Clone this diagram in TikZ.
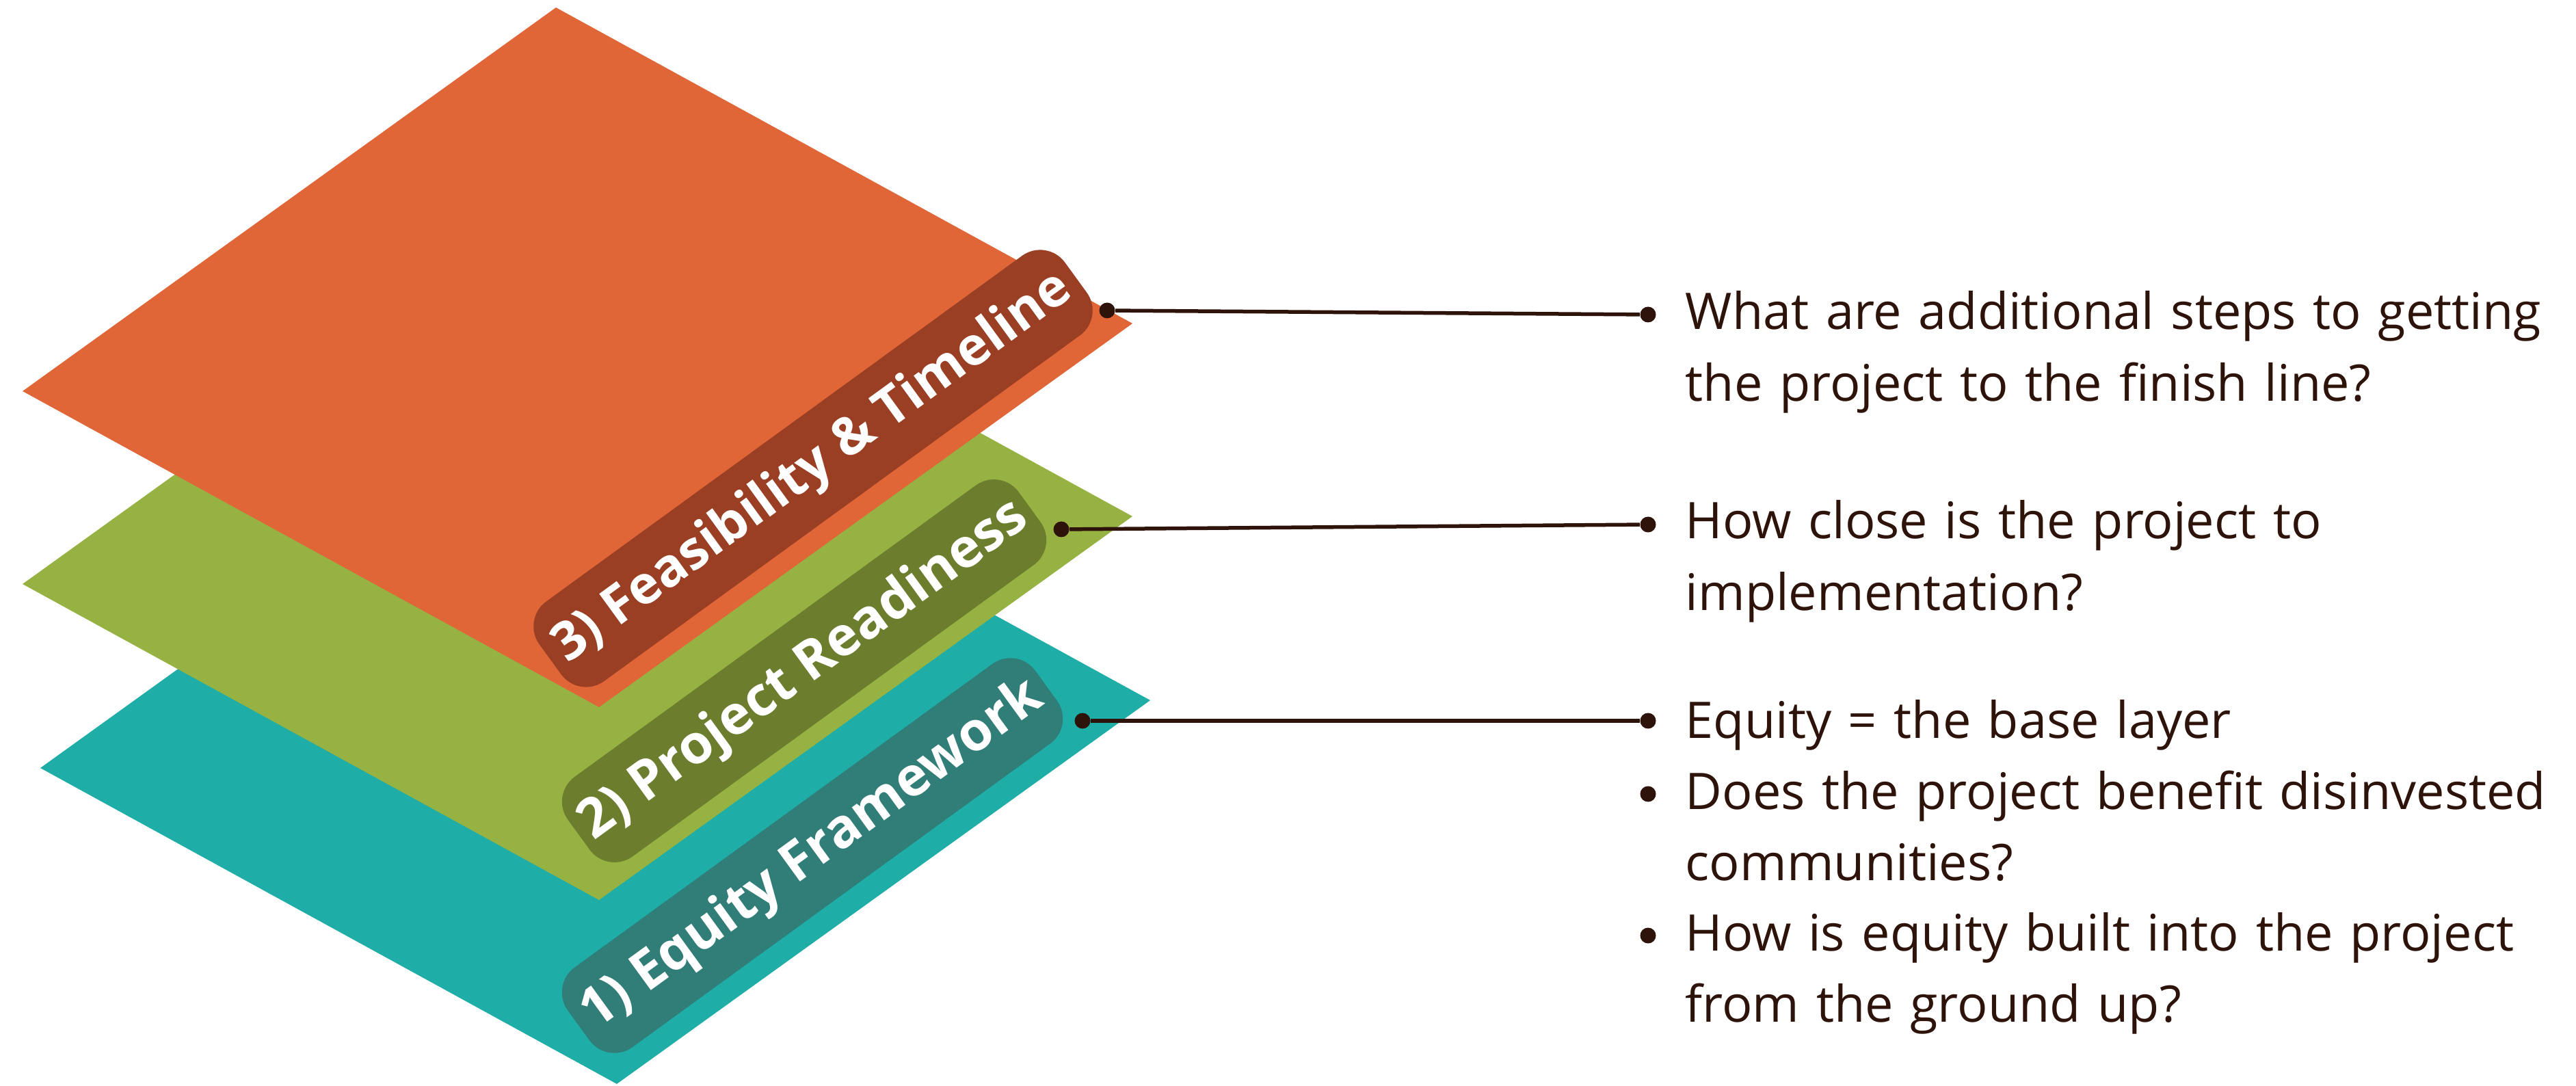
\documentclass[tikz,border=0pt]{standalone}
\usepackage{fontspec}
\setmainfont{Open Sans}
\usepackage{tikz}
\usetikzlibrary{shapes.geometric}
\definecolor{layerorange}{RGB}{224,101,55}
\definecolor{layergreen}{RGB}{150,178,67}
\definecolor{layerteal}{RGB}{30,173,167}
\definecolor{tagrust}{RGB}{154,63,36}
\definecolor{tagolive}{RGB}{108,126,46}
\definecolor{tagteal}{RGB}{49,125,120}
\definecolor{inkbrown}{RGB}{45,19,10}

\begin{document}
\begin{tikzpicture}[
  tag/.style={
    rectangle, rounded corners=0.45cm, rotate=36,
    minimum height=1.44cm, inner sep=0pt,
    text=white, font=\bfseries\fontsize{22.5}{27}\selectfont
  },
  dot/.style={circle, fill=inkbrown, inner sep=0pt, minimum size=0.23cm},
  link/.style={draw=inkbrown, line width=0.055cm},
  note/.style={
    anchor=base west, inner sep=0pt, text width=13cm, align=left,
    text=inkbrown, font=\fontsize{21}{29.6}\selectfont
  }
]
  \useasboundingbox (0,0) rectangle (37.67,15.87);

  % stacked layers, base first
  \fill[layerteal] (9.02,0.02) -- (16.82,5.63) -- (8.39,10.25) -- (0.59,4.64) -- cycle;
  \node[tag, fill=tagteal, minimum width=8.45cm] (equity) at (11.88,3.36) {1) Equity Framework};

  \fill[layergreen] (8.76,2.71) -- (16.56,8.32) -- (8.13,12.94) -- (0.33,7.33) -- cycle;
  \node[tag, fill=tagolive, minimum width=8.15cm] (ready) at (11.76,6.06) {2) Project Readiness};

  \fill[layerorange] (8.76,5.53) -- (16.56,11.14) -- (8.13,15.76) -- (0.33,10.15) -- cycle;
  \node[tag, fill=tagrust, minimum width=9.5cm] (feas) at (11.89,9.02) {\fontsize{22}{27}\selectfont 3) Feasibility \& Timeline};

  % leaders
  \node[dot] (feas-in)  at (16.19,11.33) {};
  \node[dot] (feas-out) at (24.10,11.27) {};
  \node[dot] (ready-in)  at (15.52,8.13) {};
  \node[dot] (ready-out) at (24.10,8.20) {};
  \node[dot] (equity-in)  at (15.83,5.33) {};
  \node[dot] (equity-out) at (24.10,5.33) {};
  \draw[link] (feas-in) -- (feas-out);
  \draw[link] (ready-in) -- (ready-out);
  \draw[link] (equity-in) -- (equity-out);

  \node[dot] (equity-b2) at (24.10,4.26) {};
  \node[dot] (equity-b3) at (24.10,2.19) {};

  % questions
  \node[note] (feas-note) at (24.64,11.05) {What are additional steps to getting\\the project to the finish line?};
  \node[note] (ready-note) at (24.64,7.99) {How close is the project to\\implementation?};
  \node[note] (equity-note1) at (24.64,5.07) {Equity = the base layer};
  \node[note] (equity-note2) at (24.64,4.04) {Does the project benefit disinvested\\communities?};
  \node[note] (equity-note3) at (24.64,1.97) {How is equity built into the project\\from the ground up?};
\end{tikzpicture}
\end{document}
